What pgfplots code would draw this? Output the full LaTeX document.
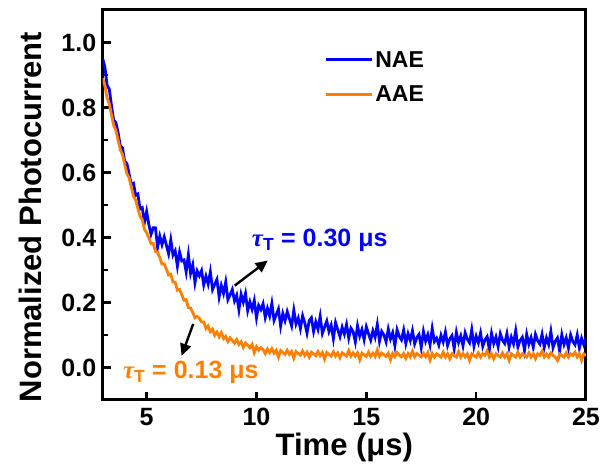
\documentclass[border=0pt]{standalone}
\usepackage{fontspec}
\setmainfont{Liberation Sans}
\newfontfamily\taufont{Liberation Serif}
\usepackage{pgfplots}
\usepackage{pgfplotstable}
\pgfplotsset{compat=1.18}
\usetikzlibrary{arrows.meta}
\definecolor{nae}{rgb}{0,0,1}
\definecolor{aae}{rgb}{1,0.5,0}

\pgfplotstableread{
x nae aae
3.0 0.950 0.890
3.1 0.924 0.867
3.2 0.868 0.829
3.3 0.857 0.811
3.4 0.806 0.778
3.5 0.760 0.745
3.6 0.754 0.730
3.7 0.723 0.700
3.8 0.682 0.670
3.9 0.676 0.655
4.0 0.635 0.625
4.1 0.628 0.597
4.2 0.596 0.584
4.3 0.564 0.556
4.4 0.567 0.528
4.5 0.530 0.515
4.6 0.534 0.490
4.7 0.488 0.465
4.8 0.492 0.455
4.9 0.446 0.425
5.0 0.480 0.415
5.1 0.440 0.398
5.2 0.410 0.381
5.3 0.430 0.382
5.4 0.430 0.357
5.5 0.370 0.355
5.6 0.404 0.338
5.7 0.378 0.318
5.8 0.402 0.319
5.9 0.376 0.302
6.0 0.350 0.285
6.1 0.393 0.287
6.2 0.346 0.263
6.3 0.359 0.262
6.4 0.312 0.238
6.5 0.355 0.240
6.6 0.328 0.224
6.7 0.331 0.207
6.8 0.294 0.209
6.9 0.347 0.184
7.0 0.290 0.183
7.1 0.316 0.169
7.2 0.261 0.153
7.3 0.297 0.157
7.4 0.282 0.152
7.5 0.298 0.140
7.6 0.254 0.140
7.7 0.281 0.120
7.8 0.257 0.128
7.9 0.294 0.110
8.0 0.240 0.118
8.1 0.256 0.099
8.2 0.271 0.109
8.3 0.217 0.095
8.4 0.252 0.107
8.5 0.228 0.089
8.6 0.263 0.096
8.7 0.209 0.080
8.8 0.224 0.091
8.9 0.240 0.083
9.0 0.205 0.075
9.1 0.222 0.086
9.2 0.178 0.071
9.3 0.225 0.079
9.4 0.201 0.062
9.5 0.228 0.075
9.6 0.175 0.068
9.7 0.202 0.061
9.8 0.179 0.071
9.9 0.206 0.046
10.0 0.153 0.064
10.1 0.191 0.053
10.2 0.178 0.061
10.3 0.196 0.055
10.4 0.154 0.043
10.5 0.182 0.057
10.6 0.159 0.046
10.7 0.197 0.058
10.8 0.145 0.044
10.9 0.162 0.053
11.0 0.180 0.032
11.1 0.128 0.052
11.2 0.166 0.046
11.3 0.144 0.041
11.4 0.172 0.053
11.5 0.150 0.040
11.6 0.128 0.049
11.7 0.176 0.029
11.8 0.134 0.049
11.9 0.152 0.043
12.0 0.120 0.038
12.1 0.159 0.051
12.2 0.137 0.037
12.3 0.106 0.047
12.4 0.144 0.032
12.5 0.153 0.047
12.6 0.111 0.042
12.7 0.140 0.036
12.8 0.118 0.049
12.9 0.157 0.036
13.0 0.105 0.046
13.1 0.124 0.026
13.2 0.143 0.046
13.3 0.111 0.040
13.4 0.130 0.035
13.5 0.089 0.048
13.6 0.138 0.035
13.7 0.116 0.045
13.8 0.095 0.030
13.9 0.124 0.045
14.0 0.103 0.040
14.1 0.132 0.035
14.2 0.091 0.052
14.3 0.121 0.035
14.4 0.110 0.045
14.5 0.079 0.035
14.6 0.128 0.045
14.7 0.097 0.024
14.8 0.117 0.044
14.9 0.086 0.039
15.0 0.125 0.034
15.1 0.104 0.047
15.2 0.084 0.034
15.3 0.113 0.044
15.4 0.093 0.034
15.5 0.132 0.054
15.6 0.081 0.034
15.7 0.111 0.044
15.8 0.100 0.039
15.9 0.079 0.034
16.0 0.118 0.044
16.1 0.088 0.024
16.2 0.107 0.043
16.3 0.067 0.033
16.4 0.116 0.046
16.5 0.096 0.038
16.6 0.085 0.033
16.7 0.115 0.043
16.8 0.074 0.028
16.9 0.104 0.043
17.0 0.083 0.033
17.1 0.113 0.050
17.2 0.073 0.033
17.3 0.092 0.043
17.4 0.102 0.038
17.5 0.062 0.033
17.6 0.111 0.043
17.7 0.081 0.033
17.8 0.101 0.046
17.9 0.070 0.023
18.0 0.120 0.043
18.1 0.080 0.032
18.2 0.090 0.042
18.3 0.069 0.037
18.4 0.099 0.032
18.5 0.079 0.047
18.6 0.109 0.032
18.7 0.068 0.042
18.8 0.088 0.027
18.9 0.098 0.042
19.0 0.058 0.037
19.1 0.108 0.032
19.2 0.077 0.049
19.3 0.097 0.032
19.4 0.067 0.042
19.5 0.107 0.032
19.6 0.087 0.042
19.7 0.076 0.022
19.8 0.116 0.042
19.9 0.066 0.037
20.0 0.096 0.032
20.1 0.076 0.045
20.2 0.106 0.032
20.3 0.065 0.042
20.4 0.085 0.037
20.5 0.095 0.052
20.6 0.055 0.032
20.7 0.105 0.042
20.8 0.074 0.027
20.9 0.094 0.042
21.0 0.064 0.037
21.1 0.104 0.032
21.2 0.084 0.045
21.3 0.074 0.032
21.4 0.104 0.042
21.5 0.063 0.022
21.6 0.093 0.042
21.7 0.073 0.037
21.8 0.113 0.032
21.9 0.063 0.047
22.0 0.083 0.032
22.1 0.093 0.042
22.2 0.053 0.037
22.3 0.102 0.032
22.4 0.072 0.045
22.5 0.092 0.032
22.6 0.062 0.042
22.7 0.102 0.027
22.8 0.082 0.042
22.9 0.072 0.037
23.0 0.102 0.050
23.1 0.062 0.032
23.2 0.091 0.042
23.3 0.071 0.032
23.4 0.111 0.045
23.5 0.061 0.037
23.6 0.081 0.032
23.7 0.091 0.022
23.8 0.051 0.042
23.9 0.101 0.037
24.0 0.071 0.032
24.1 0.091 0.045
24.2 0.060 0.032
24.3 0.100 0.042
24.4 0.080 0.037
24.5 0.070 0.047
24.6 0.100 0.032
24.7 0.060 0.042
24.8 0.090 0.022
24.9 0.070 0.042
25.0 0.090 0.037
}\datatable

\begin{document}
\begin{tikzpicture}
\useasboundingbox (-102.7pt,-73pt) rectangle (500.3pt,400pt);
\begin{axis}[
  scale only axis, width=483.3pt, height=390pt,
  xmin=3, xmax=25, ymin=-0.1, ymax=1.1,
  xtick={5,10,15,20,25},
  ytick={0,0.2,0.4,0.6,0.8,1.0},
  minor y tick num=1,
  tick pos=left, tick align=inside,
  major tick length=8pt, minor tick length=5pt,
  tick style={line width=2.6pt, black},
  axis line style={line width=3pt},
  /pgf/number format/assume math mode=true,
  yticklabel style={/pgf/number format/fixed, /pgf/number format/fixed zerofill, /pgf/number format/precision=1, xshift=-3pt},
  tick label style={font=\bfseries\fontsize{25}{25}\selectfont},
  xticklabel style={yshift=-5pt},
  label style={font=\bfseries\fontsize{31}{31}\selectfont},
  xlabel={Time (μs)},
  ylabel={Normalized Photocurrent},
  xlabel style={at={(axis description cs:0.5,0)}, anchor=center, yshift=-47pt},
  ylabel style={at={(axis description cs:-0.1504,0.469)}, anchor=center},
  legend style={draw=none, fill=none, font=\bfseries\fontsize{23}{23}\selectfont,
    at={(axis description cs:0.452,0.905)}, anchor=north west, row sep=13pt},
  legend cell align=left,
  legend image code/.code={\draw[#1, line width=3pt] (0pt,0pt) -- (46pt,0pt);},
]
\addplot[nae, line width=2.8pt] table[x=x, y=nae] {\datatable};
\addlegendentry{NAE}
\addplot[aae, line width=2.8pt] table[x=x, y=aae] {\datatable};
\addlegendentry{AAE}
\node[text=nae, font=\bfseries\fontsize{25}{25}\selectfont] at (axis cs:12.88,0.391) {{\taufont\bfseries\itshape τ}\textsubscript{T} = 0.30 μs};
\node[text=aae, font=\bfseries\fontsize{25}{25}\selectfont] at (axis cs:7.01,-0.016) {{\taufont\bfseries\itshape τ}\textsubscript{T} = 0.13 μs};
\draw[-{Triangle[length=12pt,width=11pt]}, line width=2.4pt] (axis cs:9.01,0.252) -- (axis cs:10.51,0.329);
\draw[-{Triangle[length=12pt,width=11pt]}, line width=2.4pt] (axis cs:7.12,0.134) -- (axis cs:6.59,0.036);
\end{axis}
\end{tikzpicture}
\end{document}
